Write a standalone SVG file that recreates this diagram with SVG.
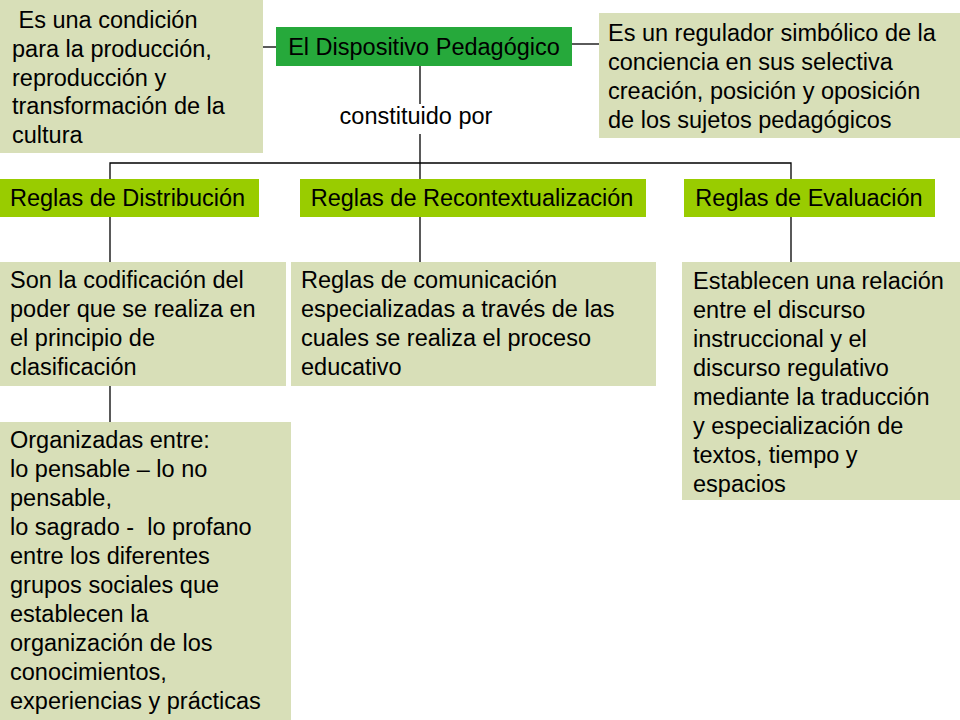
<svg xmlns="http://www.w3.org/2000/svg" width="960" height="720" viewBox="0 0 960 720">
<style>
.pale{fill:#d8dfb8}
.dark{fill:#26a93b}
.lime{fill:#99cc00}
text{font-family:"Liberation Sans",Arial,sans-serif;font-size:23.5px;fill:#000}
.c{text-anchor:middle}
.ln{stroke:#000;stroke-width:1.3;fill:none}
</style>
<rect width="960" height="720" fill="#fff"/>
<g id="connectors">
<line class="ln" x1="251" y1="47" x2="276" y2="47"/>
<line class="ln" x1="572" y1="44" x2="600" y2="44"/>
<line class="ln" x1="420" y1="66" x2="420" y2="179"/>
<polyline class="ln" points="110,179 110,163 791,163 791,179"/>
<line class="ln" x1="110" y1="217" x2="110" y2="262"/>
<line class="ln" x1="420" y1="217" x2="420" y2="262"/>
<line class="ln" x1="791" y1="217" x2="791" y2="262"/>
<line class="ln" x1="110" y1="386" x2="110" y2="422"/>
</g>
<g id="label-constituido">
<rect x="338" y="104" width="158" height="30" fill="#fff"/>
<text class="c" x="416" y="124">constituido por</text>
</g>
<g id="n-condicion">
<rect class="pale" x="0" y="0" width="263" height="153"/>
<text x="12" y="28" xml:space="preserve"> Es una condición</text>
<text x="12" y="57">para la producción,</text>
<text x="12" y="86">reproducción y</text>
<text x="12" y="114">transformación de la</text>
<text x="12" y="143">cultura</text>
</g>
<g id="n-dispositivo">
<rect class="dark" x="276" y="27" width="296" height="39"/>
<text class="c" x="424" y="55">El Dispositivo Pedagógico</text>
</g>
<g id="n-regulador">
<rect class="pale" x="599" y="13" width="361" height="125"/>
<text x="608" y="41">Es un regulador simbólico de la</text>
<text x="608" y="70">conciencia en sus selectiva</text>
<text x="608" y="99">creación, posición y oposición</text>
<text x="608" y="128">de los sujetos pedagógicos</text>
</g>
<g id="n-distribucion">
<rect class="lime" x="0" y="179" width="259" height="38"/>
<text x="10" y="206">Reglas de Distribución</text>
</g>
<g id="n-recontextualizacion">
<rect class="lime" x="300" y="179" width="346" height="38"/>
<text class="c" x="472" y="206">Reglas de Recontextualización</text>
</g>
<g id="n-evaluacion">
<rect class="lime" x="684" y="179" width="251" height="38"/>
<text class="c" x="809" y="206">Reglas de Evaluación</text>
</g>
<g id="n-codificacion">
<rect class="pale" x="0" y="262" width="286" height="124"/>
<text x="10" y="288">Son la codificación del</text>
<text x="10" y="317">poder que se realiza en</text>
<text x="10" y="346">el principio de</text>
<text x="10" y="375">clasificación</text>
</g>
<g id="n-comunicacion">
<rect class="pale" x="291" y="262" width="365" height="124"/>
<text x="301" y="288">Reglas de comunicación</text>
<text x="301" y="317">especializadas a través de las</text>
<text x="301" y="346">cuales se realiza el proceso</text>
<text x="301" y="375">educativo</text>
</g>
<g id="n-relacion">
<rect class="pale" x="682" y="262" width="278" height="238"/>
<text x="693" y="289">Establecen una relación</text>
<text x="693" y="318">entre el discurso</text>
<text x="693" y="347">instruccional y el</text>
<text x="693" y="376">discurso regulativo</text>
<text x="693" y="405">mediante la traducción</text>
<text x="693" y="434">y especialización de</text>
<text x="693" y="463">textos, tiempo y</text>
<text x="693" y="492">espacios</text>
</g>
<g id="n-organizadas">
<rect class="pale" x="0" y="422" width="291" height="298"/>
<text x="10" y="448">Organizadas entre:</text>
<text x="10" y="477">lo pensable – lo no</text>
<text x="10" y="506">pensable,</text>
<text x="10" y="535" xml:space="preserve">lo sagrado -  lo profano</text>
<text x="10" y="564">entre los diferentes</text>
<text x="10" y="593">grupos sociales que</text>
<text x="10" y="622">establecen la</text>
<text x="10" y="651">organización de los</text>
<text x="10" y="680">conocimientos,</text>
<text x="10" y="709">experiencias y prácticas</text>
</g>
</svg>
